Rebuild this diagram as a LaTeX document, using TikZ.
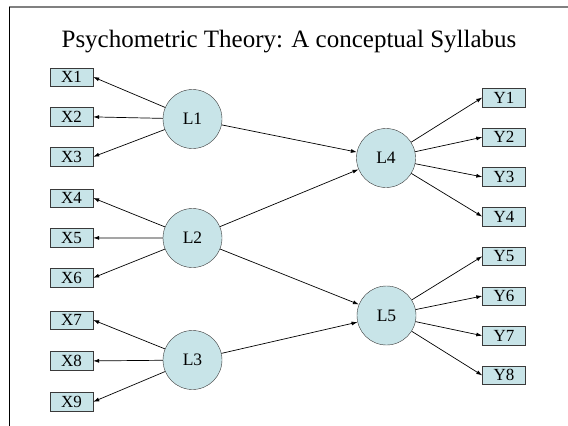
\documentclass[tikz,border=0pt]{standalone}
\usepackage{fontspec}
\setmainfont{Liberation Serif}
\usetikzlibrary{positioning,arrows.meta}
\definecolor{obsfill}{HTML}{C8E4E8}
\definecolor{edgegray}{HTML}{3A3A3A}
\definecolor{framegray}{HTML}{808080}

\begin{document}
\begin{tikzpicture}[
    x=1pt, y=-1pt,
    node distance=21pt,
    box/.style={draw=edgegray, fill=obsfill, minimum width=43pt, minimum height=18.5pt, inner sep=0pt, font=\fontsize{17}{17}\selectfont},
    latent/.style={circle, draw=edgegray, fill=obsfill, minimum size=59pt, inner sep=0pt, font=\fontsize{17.5}{17.5}\selectfont},
    arrow/.style={-{Latex[length=6pt,width=4pt]}, line width=0.7pt},
]
\useasboundingbox (0,0) rectangle (568,426);
\draw[framegray, line width=1.5pt] (9,7) -- (568,7);
\draw[line width=0.8pt] (9,7) -- (9,426);

\node[font=\fontsize{25}{25}\selectfont, anchor=base] (title) at (289,47) {Psychometric Theory: A conceptual Syllabus};

% latent variables
\node[latent] (l1) at (192.5,119) {L1};
\node[latent] (l2) at (192.5,238) {L2};
\node[latent] (l3) at (192.5,360) {L3};
\node[latent] (l4) at (386,158) {L4};
\node[latent] (l5) at (386.5,315.5) {L5};

% observed X
\node[box] (x1) at (71.5,77) {X1};
\node[box, below=of x1] (x2) {X2};
\node[box, below=of x2] (x3) {X3};
\node[box] (x4) at (71.5,198) {X4};
\node[box, below=of x4] (x5) {X5};
\node[box, below=of x5] (x6) {X6};
\node[box] (x7) at (71.5,320) {X7};
\node[box, below=22pt of x7] (x8) {X8};
\node[box, below=22pt of x8] (x9) {X9};

% observed Y
\node[box] (y1) at (504,97.5) {Y1};
\node[box, below=20.8pt of y1] (y2) {Y2};
\node[box, below=20.8pt of y2] (y3) {Y3};
\node[box, below=20.8pt of y3] (y4) {Y4};
\node[box, below=20.8pt of y4] (y5) {Y5};
\node[box, below=20.8pt of y5] (y6) {Y6};
\node[box, below=20.8pt of y6] (y7) {Y7};
\node[box, below=20.8pt of y7] (y8) {Y8};

\draw[arrow] (l1) -- (x1.east);
\draw[arrow] (l1) -- (x2.east);
\draw[arrow] (l1) -- (x3.east);
\draw[arrow] (l2) -- (x4.east);
\draw[arrow] (l2) -- (x5.east);
\draw[arrow] (l2) -- (x6.east);
\draw[arrow] (l3) -- (x7.east);
\draw[arrow] (l3) -- (x8.east);
\draw[arrow] (l3) -- (x9.east);

\draw[arrow] (l1) -- (l4);
\draw[arrow] (l2) -- (l4);
\draw[arrow] (l2) -- (l5);
\draw[arrow] (l3) -- (l5);

\draw[arrow] (l4) -- (y1.west);
\draw[arrow] (l4) -- (y2.west);
\draw[arrow] (l4) -- (y3.west);
\draw[arrow] (l4) -- (y4.west);
\draw[arrow] (l5) -- (y5.west);
\draw[arrow] (l5) -- (y6.west);
\draw[arrow] (l5) -- (y7.west);
\draw[arrow] (l5) -- (y8.west);
\end{tikzpicture}
\end{document}
